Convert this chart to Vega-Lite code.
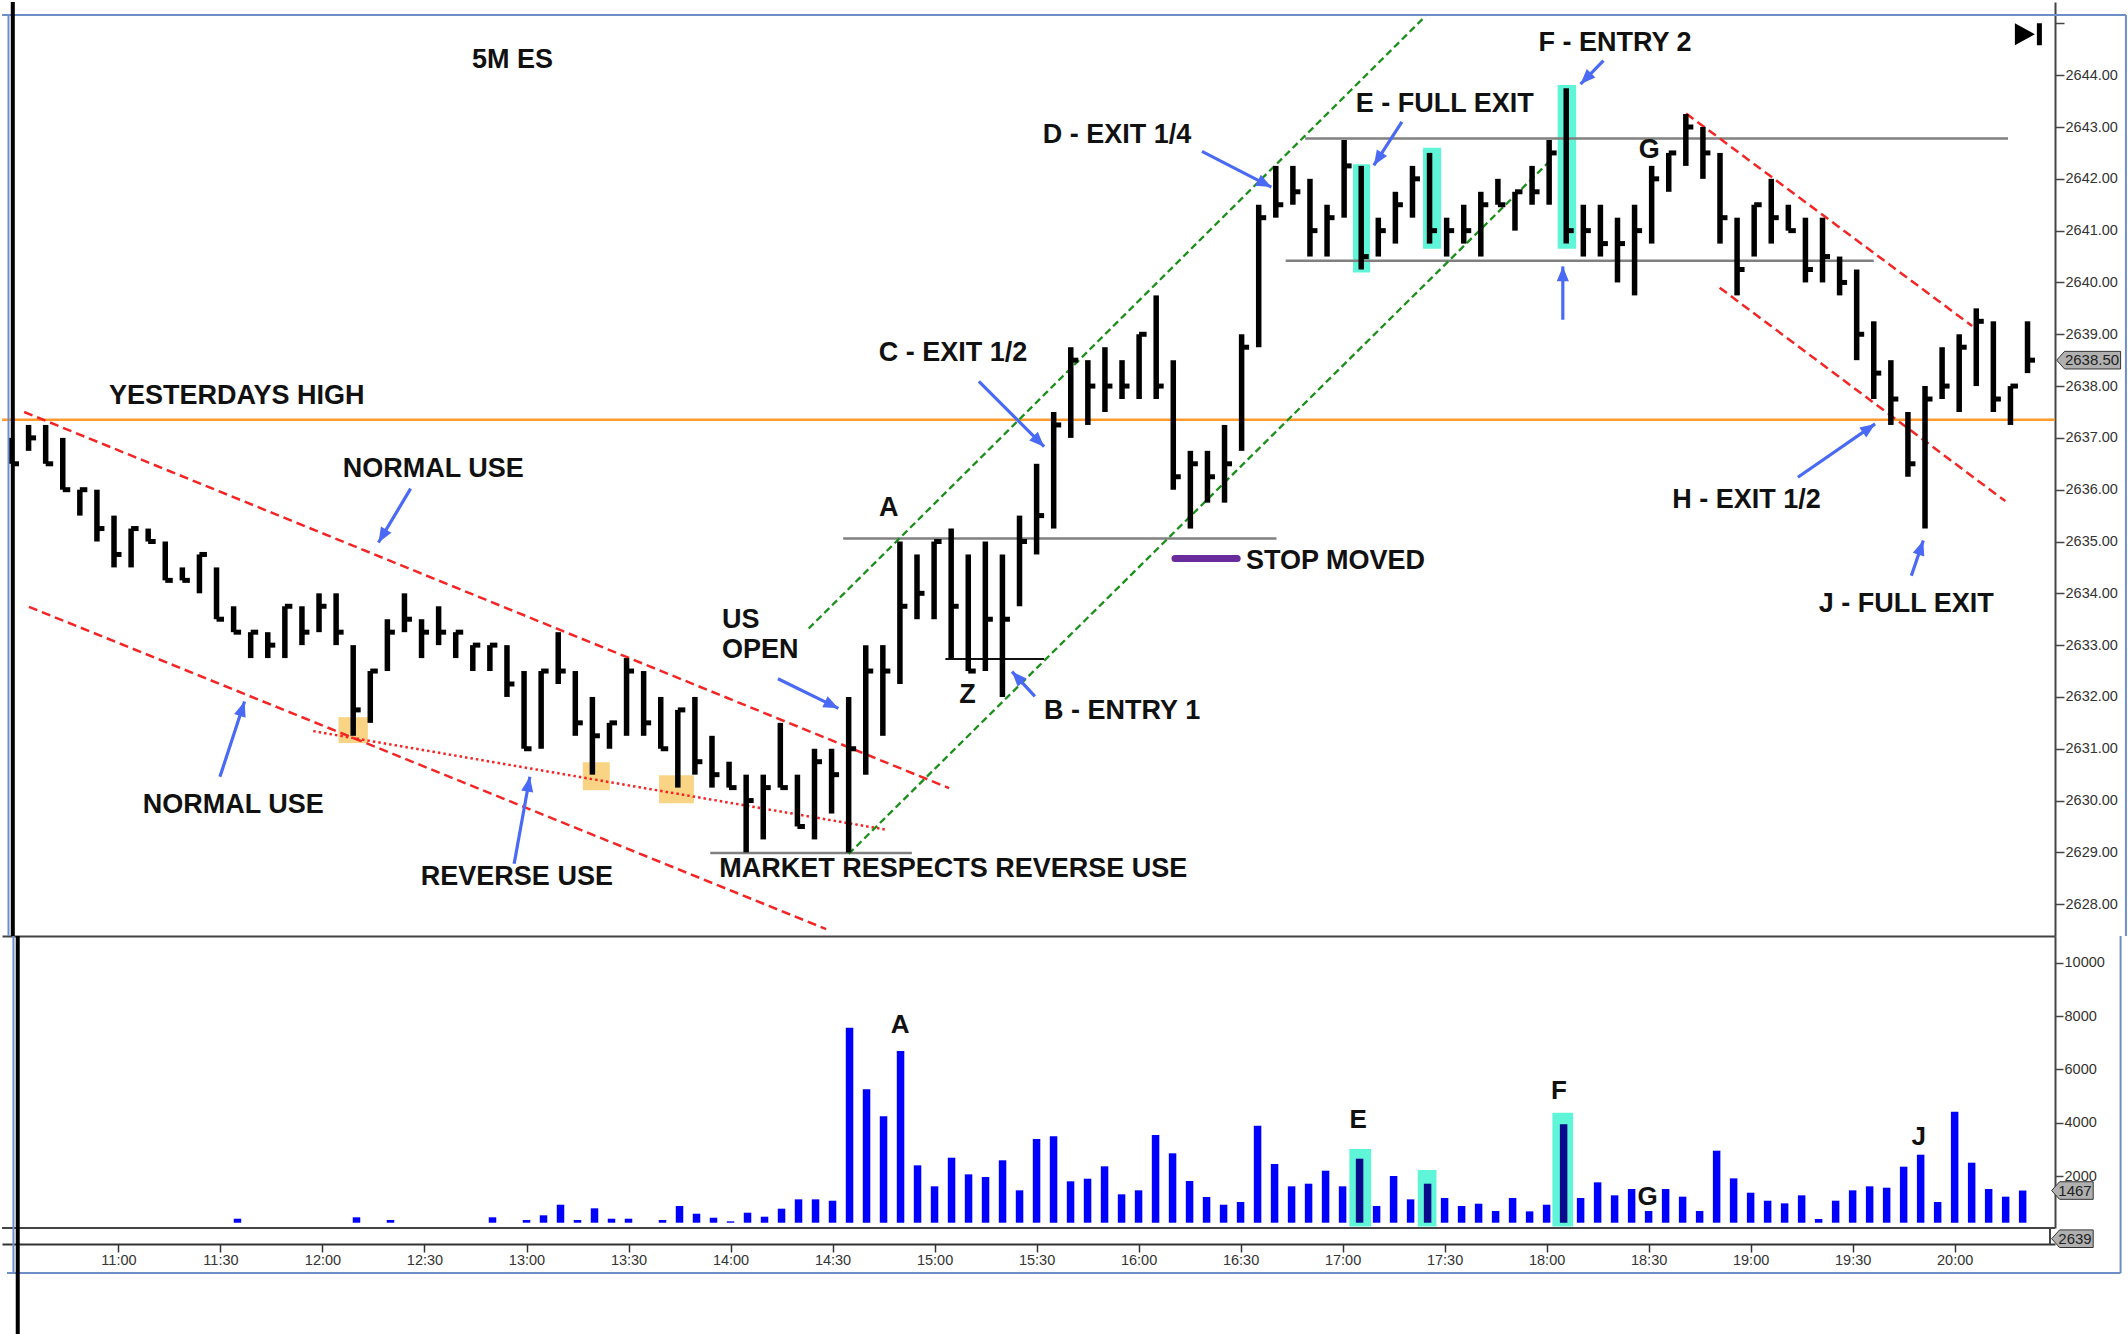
{
"$schema":"https://vega.github.io/schema/vega-lite/v6.json",
"background":"white",
"padding":0,
"spacing":0,
"bounds":"flush",
"config":{"view":{"stroke":null},"axis":{"grid":false,"labelFont":"Liberation Sans","labelFontSize":14.5,"labelColor":"#333333","domainColor":"#444444","domainWidth":2,"tickColor":"#444444","tickWidth":1.5},"text":{"font":"Liberation Sans","fontWeight":"bold","fontSize":27,"color":"#111111"}},
"datasets":{
"bars":[
{"t":630,"h":2637.00,"l":2636.50,"c":2636.50},
{"t":635,"h":2637.25,"l":2636.75,"c":2637.00},
{"t":640,"h":2637.25,"l":2636.50,"c":2636.50},
{"t":645,"h":2637.00,"l":2636.00,"c":2636.00},
{"t":650,"h":2636.00,"l":2635.50,"c":2636.00},
{"t":655,"h":2636.00,"l":2635.00,"c":2635.25},
{"t":660,"h":2635.50,"l":2634.50,"c":2634.75},
{"t":665,"h":2635.25,"l":2634.50,"c":2635.25},
{"t":670,"h":2635.25,"l":2635.00,"c":2635.00},
{"t":675,"h":2635.00,"l":2634.25,"c":2634.25},
{"t":680,"h":2634.50,"l":2634.25,"c":2634.25},
{"t":685,"h":2634.75,"l":2634.00,"c":2634.75},
{"t":690,"h":2634.50,"l":2633.50,"c":2633.50},
{"t":695,"h":2633.75,"l":2633.25,"c":2633.25,"v":412},
{"t":700,"h":2633.25,"l":2632.75,"c":2633.25},
{"t":705,"h":2633.25,"l":2632.75,"c":2633.00},
{"t":710,"h":2633.75,"l":2632.75,"c":2633.75},
{"t":715,"h":2633.75,"l":2633.00,"c":2633.25},
{"t":720,"h":2634.00,"l":2633.25,"c":2633.75},
{"t":725,"h":2634.00,"l":2633.00,"c":2633.25},
{"t":730,"h":2633.00,"l":2631.25,"c":2631.75,"v":464},
{"t":735,"h":2632.50,"l":2631.50,"c":2632.50},
{"t":740,"h":2633.50,"l":2632.50,"c":2633.25,"v":363},
{"t":745,"h":2634.00,"l":2633.25,"c":2633.50},
{"t":750,"h":2633.50,"l":2632.75,"c":2633.25},
{"t":755,"h":2633.75,"l":2633.00,"c":2633.25},
{"t":760,"h":2633.25,"l":2632.75,"c":2633.25},
{"t":765,"h":2633.00,"l":2632.50,"c":2633.00},
{"t":770,"h":2633.00,"l":2632.50,"c":2633.00,"v":464},
{"t":775,"h":2633.00,"l":2632.00,"c":2632.25},
{"t":780,"h":2632.50,"l":2631.00,"c":2631.00,"v":363},
{"t":785,"h":2632.50,"l":2631.00,"c":2632.50,"v":539},
{"t":790,"h":2633.25,"l":2632.25,"c":2632.50,"v":936},
{"t":795,"h":2632.50,"l":2631.25,"c":2631.50,"v":363},
{"t":800,"h":2632.00,"l":2630.50,"c":2631.25,"v":801},
{"t":805,"h":2631.50,"l":2631.00,"c":2631.50,"v":412},
{"t":810,"h":2632.75,"l":2631.25,"c":2632.50,"v":412},
{"t":815,"h":2632.50,"l":2631.25,"c":2631.50},
{"t":820,"h":2632.00,"l":2631.00,"c":2631.00,"v":363},
{"t":825,"h":2631.75,"l":2630.25,"c":2631.75,"v":887},
{"t":830,"h":2632.00,"l":2630.50,"c":2630.75,"v":599},
{"t":835,"h":2631.25,"l":2630.25,"c":2630.50,"v":449},
{"t":840,"h":2630.75,"l":2630.25,"c":2630.25,"v":314},
{"t":845,"h":2630.50,"l":2629.00,"c":2630.00,"v":637},
{"t":850,"h":2630.50,"l":2629.25,"c":2630.25,"v":487},
{"t":855,"h":2631.50,"l":2630.25,"c":2630.25,"v":787},
{"t":860,"h":2630.50,"l":2629.50,"c":2629.50,"v":1137},
{"t":865,"h":2631.00,"l":2629.25,"c":2630.75,"v":1137},
{"t":870,"h":2631.00,"l":2629.75,"c":2630.50,"v":1086},
{"t":875,"h":2632.00,"l":2629.00,"c":2631.00,"v":7565},
{"t":880,"h":2633.00,"l":2630.50,"c":2632.50,"v":5258},
{"t":885,"h":2633.00,"l":2631.25,"c":2632.50,"v":4247},
{"t":890,"h":2635.00,"l":2632.25,"c":2633.75,"v":6692},
{"t":895,"h":2634.75,"l":2633.50,"c":2634.00,"v":2411},
{"t":900,"h":2635.00,"l":2633.50,"c":2635.00,"v":1625},
{"t":905,"h":2635.25,"l":2632.75,"c":2633.75,"v":2697},
{"t":910,"h":2634.75,"l":2632.50,"c":2632.50,"v":2073},
{"t":915,"h":2635.00,"l":2632.50,"c":2633.50,"v":1974},
{"t":920,"h":2634.75,"l":2632.00,"c":2633.50,"v":2599},
{"t":925,"h":2635.50,"l":2633.75,"c":2635.00,"v":1475},
{"t":930,"h":2636.50,"l":2634.75,"c":2635.50,"v":3397},
{"t":935,"h":2637.50,"l":2635.25,"c":2637.25,"v":3497},
{"t":940,"h":2638.75,"l":2637.00,"c":2638.50,"v":1812},
{"t":945,"h":2638.50,"l":2637.25,"c":2638.00,"v":1910},
{"t":950,"h":2638.75,"l":2637.50,"c":2638.00,"v":2374},
{"t":955,"h":2638.50,"l":2637.75,"c":2638.00,"v":1325},
{"t":960,"h":2639.00,"l":2637.75,"c":2639.00,"v":1475},
{"t":965,"h":2639.75,"l":2637.75,"c":2638.00,"v":3547},
{"t":970,"h":2638.50,"l":2636.00,"c":2636.25,"v":2861},
{"t":975,"h":2636.75,"l":2635.25,"c":2636.50,"v":1824},
{"t":980,"h":2636.75,"l":2635.75,"c":2636.25,"v":1225},
{"t":985,"h":2637.25,"l":2635.75,"c":2636.50,"v":936},
{"t":990,"h":2639.00,"l":2636.75,"c":2638.75,"v":1037},
{"t":995,"h":2641.50,"l":2638.75,"c":2641.25,"v":3895},
{"t":1000,"h":2642.25,"l":2641.25,"c":2641.50,"v":2460},
{"t":1005,"h":2642.25,"l":2641.50,"c":2641.75,"v":1625},
{"t":1010,"h":2642.00,"l":2640.50,"c":2641.00,"v":1723},
{"t":1015,"h":2641.50,"l":2640.50,"c":2641.25,"v":2210},
{"t":1020,"h":2642.75,"l":2641.25,"c":2642.25,"v":1625},
{"t":1025,"h":2642.25,"l":2640.25,"c":2640.50,"v":2659},
{"t":1030,"h":2641.25,"l":2640.50,"c":2641.00,"v":888},
{"t":1035,"h":2641.75,"l":2640.75,"c":2641.50,"v":2011},
{"t":1040,"h":2642.25,"l":2641.25,"c":2642.00,"v":1137},
{"t":1045,"h":2642.50,"l":2640.75,"c":2641.00,"v":1723},
{"t":1050,"h":2641.25,"l":2640.50,"c":2641.00,"v":1187},
{"t":1055,"h":2641.50,"l":2640.75,"c":2641.00,"v":888},
{"t":1060,"h":2641.75,"l":2640.50,"c":2641.50,"v":974},
{"t":1065,"h":2642.00,"l":2641.50,"c":2641.50,"v":700},
{"t":1070,"h":2641.75,"l":2641.00,"c":2641.75,"v":1187},
{"t":1075,"h":2642.25,"l":2641.50,"c":2641.75,"v":687},
{"t":1080,"h":2642.75,"l":2641.50,"c":2642.50,"v":936},
{"t":1085,"h":2643.75,"l":2640.75,"c":2641.00,"v":3946},
{"t":1090,"h":2641.50,"l":2640.50,"c":2641.00,"v":1187},
{"t":1095,"h":2641.50,"l":2640.50,"c":2640.75,"v":1774},
{"t":1100,"h":2641.25,"l":2640.00,"c":2640.75,"v":1287},
{"t":1105,"h":2641.50,"l":2639.75,"c":2641.00,"v":1524},
{"t":1110,"h":2642.25,"l":2640.75,"c":2642.00,"v":700},
{"t":1115,"h":2642.50,"l":2641.75,"c":2642.50,"v":1524},
{"t":1120,"h":2643.25,"l":2642.25,"c":2643.00,"v":1237},
{"t":1125,"h":2643.00,"l":2642.00,"c":2642.50,"v":700},
{"t":1130,"h":2642.50,"l":2640.75,"c":2641.25,"v":2960},
{"t":1135,"h":2641.25,"l":2639.75,"c":2640.25,"v":1923},
{"t":1140,"h":2641.50,"l":2640.50,"c":2641.50,"v":1386},
{"t":1145,"h":2642.00,"l":2640.75,"c":2641.25,"v":1086},
{"t":1150,"h":2641.50,"l":2641.00,"c":2641.00,"v":987},
{"t":1155,"h":2641.25,"l":2640.00,"c":2640.25,"v":1287},
{"t":1160,"h":2641.25,"l":2640.00,"c":2640.50,"v":400},
{"t":1165,"h":2640.50,"l":2639.75,"c":2640.00,"v":1086},
{"t":1170,"h":2640.25,"l":2638.50,"c":2639.00,"v":1475},
{"t":1175,"h":2639.25,"l":2637.75,"c":2638.25,"v":1625},
{"t":1180,"h":2638.50,"l":2637.25,"c":2637.75,"v":1573},
{"t":1185,"h":2637.50,"l":2636.25,"c":2636.50,"v":2360},
{"t":1190,"h":2638.00,"l":2635.25,"c":2637.75,"v":2809},
{"t":1195,"h":2638.75,"l":2637.75,"c":2638.00,"v":1037},
{"t":1200,"h":2639.00,"l":2637.50,"c":2638.75,"v":4420},
{"t":1205,"h":2639.50,"l":2638.00,"c":2639.25,"v":2510},
{"t":1210,"h":2639.25,"l":2637.50,"c":2637.75,"v":1524},
{"t":1215,"h":2638.00,"l":2637.25,"c":2638.00,"v":1237},
{"t":1220,"h":2639.25,"l":2638.25,"c":2638.50,"v":1467}
],
"cyanPrice":[{"t":1022.6,"t2":1027.6,"p":2640.19,"p2":2642.28},{"t":1043.1,"t2":1048.4,"p":2640.65,"p2":2642.60},{"t":1082.5,"t2":1087.9,"p":2640.65,"p2":2643.81}],
"orangeBoxes":[{"t":725.7,"t2":734.3,"p":2631.11,"p2":2631.61},{"t":797.2,"t2":805.1,"p":2630.20,"p2":2630.74},{"t":819.5,"t2":829.7,"p":2629.95,"p2":2630.49}],
"cyanVol":[{"t":1022.0,"t2":1028.4,"v":120,"v2":3022},{"t":1042.1,"t2":1047.6,"v":120,"v2":2236},{"t":1081.7,"t2":1087.8,"v":120,"v2":4382}],
"level":[{"p":2637.35}],
"gray":[{"t":834.5,"p":2628.99,"t2":893.5,"p2":2628.99},{"t":873.4,"p":2635.06,"t2":1000.2,"p2":2635.06},{"t":1008.6,"p":2642.78,"t2":1214.3,"p2":2642.78},{"t":1002.9,"p":2640.42,"t2":1175.0,"p2":2640.42}],
"redDash":[{"t":633.7,"p":2637.50,"t2":904.4,"p2":2630.24},{"t":635.1,"p":2633.74,"t2":868.4,"p2":2627.52},{"t":1120.1,"p":2643.26,"t2":1203.8,"p2":2639.16},{"t":1129.9,"p":2639.90,"t2":1213.5,"p2":2635.78}],
"redDot":[{"t":718.3,"p":2631.34,"t2":885.8,"p2":2629.44}],
"greenDash":[{"t":863.3,"p":2633.32,"t2":1043.8,"p2":2645.14},{"t":875.0,"p":2628.97,"t2":1080.3,"p2":2642.35}],
"zline":[{"t":903.3,"p":2632.73,"t2":932.2,"p2":2632.73}],
"stop":[{"t":970.5,"p":2634.67,"t2":988.7,"p2":2634.67}],
"arrows":[
{"t":746.8,"p":2636.02,"t2":737.4,"p2":2634.98},
{"t":691.0,"p":2630.46,"t2":698.2,"p2":2631.91},
{"t":777.1,"p":2628.78,"t2":781.7,"p2":2630.46},
{"t":854.3,"p":2632.35,"t2":872.0,"p2":2631.78},
{"t":929.5,"p":2632.01,"t2":922.8,"p2":2632.49},
{"t":913.1,"p":2638.09,"t2":932.2,"p2":2636.83},
{"t":978.4,"p":2642.53,"t2":998.7,"p2":2641.84},
{"t":1036.9,"p":2643.10,"t2":1028.7,"p2":2642.26},
{"t":1095.9,"p":2644.28,"t2":1089.2,"p2":2643.83},
{"t":1084.0,"p":2639.28,"t2":1084.0,"p2":2640.31},
{"t":1152.8,"p":2636.24,"t2":1175.4,"p2":2637.27},
{"t":1186.0,"p":2634.34,"t2":1189.5,"p2":2635.02}
],
"labelsLeft":[
{"t":658.5,"p":2637.81,"text":"YESTERDAYS HIGH"},
{"t":837.9,"p":2633.49,"text":"US"},
{"t":837.9,"p":2632.90,"text":"OPEN"},
{"t":837.1,"p":2628.67,"text":"MARKET RESPECTS REVERSE USE"},
{"t":932.2,"p":2631.73,"text":"B - ENTRY 1"},
{"t":883.8,"p":2638.64,"text":"C - EXIT 1/2"},
{"t":991.3,"p":2634.63,"text":"STOP MOVED"},
{"t":931.8,"p":2642.84,"text":"D - EXIT 1/4"},
{"t":1023.4,"p":2643.45,"text":"E - FULL EXIT"},
{"t":1076.9,"p":2644.62,"text":"F - ENTRY 2"},
{"t":1116.0,"p":2635.80,"text":"H - EXIT 1/2"},
{"t":1158.9,"p":2633.79,"text":"J - FULL EXIT"}
],
"labelsCenter":[
{"t":776.6,"p":2644.29,"text":"5M ES"},
{"t":753.4,"p":2636.40,"text":"NORMAL USE"},
{"t":694.9,"p":2629.92,"text":"NORMAL USE"},
{"t":777.9,"p":2628.52,"text":"REVERSE USE"},
{"t":886.7,"p":2635.65,"text":"A"},
{"t":909.8,"p":2632.03,"text":"Z"},
{"t":1109.3,"p":2642.55,"text":"G"}
],
"volLabels":[{"t":889.9,"v":7655,"text":"A"},{"t":1024.6,"v":4097,"text":"E"},{"t":1083.6,"v":5183,"text":"F"},{"t":1109.7,"v":1225,"text":"G"},{"t":1189.4,"v":3472,"text":"J"}],
"ptag":[{"p":2638.5,"label":"2638.50"}],
"vtag":[{"v":1467,"label":"1467"},{"v":-337,"label":"2639"}],
"icon":[{"t":1220.4,"p":2644.79}],
"one":[{"k":1}]
},
"vconcat":[
{"width":2053,"height":934,
"layer":[
{"data":{"name":"cyanPrice"},"mark":{"type":"rect","fill":"#5ff5d8"},"encoding":{"x":{"field":"t","type":"quantitative","scale":{"domain":[627.22,1228.04],"nice":false,"zero":false}},"x2":{"field":"t2"},"y":{"field":"p","type":"quantitative","scale":{"domain":[2627.386,2645.413],"nice":false,"zero":false}},"y2":{"field":"p2"}}},
{"data":{"name":"orangeBoxes"},"mark":{"type":"rect","fill":"#f9cf78","opacity":0.9},"encoding":{"x":{"field":"t","type":"quantitative","scale":{"domain":[627.22,1228.04],"nice":false,"zero":false}},"x2":{"field":"t2"},"y":{"field":"p","type":"quantitative","scale":{"domain":[2627.386,2645.413],"nice":false,"zero":false}},"y2":{"field":"p2"}}},
{"data":{"name":"level"},"mark":{"type":"rule","color":"#ff9a2e","strokeWidth":2.5},"encoding":{"y":{"field":"p","type":"quantitative","scale":{"domain":[2627.386,2645.413],"nice":false,"zero":false}}}},
{"data":{"name":"gray"},"mark":{"type":"rule","color":"#808080","strokeWidth":2.5},"encoding":{"x":{"field":"t","type":"quantitative","scale":{"domain":[627.22,1228.04],"nice":false,"zero":false}},"x2":{"field":"t2"},"y":{"field":"p","type":"quantitative","scale":{"domain":[2627.386,2645.413],"nice":false,"zero":false}},"y2":{"field":"p2"}}},
{"data":{"name":"redDash"},"mark":{"type":"rule","color":"#f52525","strokeWidth":2.5,"strokeDash":[9,5]},"encoding":{"x":{"field":"t","type":"quantitative","scale":{"domain":[627.22,1228.04],"nice":false,"zero":false}},"x2":{"field":"t2"},"y":{"field":"p","type":"quantitative","scale":{"domain":[2627.386,2645.413],"nice":false,"zero":false}},"y2":{"field":"p2"}}},
{"data":{"name":"redDot"},"mark":{"type":"rule","color":"#f52525","strokeWidth":2.5,"strokeDash":[2.5,3]},"encoding":{"x":{"field":"t","type":"quantitative","scale":{"domain":[627.22,1228.04],"nice":false,"zero":false}},"x2":{"field":"t2"},"y":{"field":"p","type":"quantitative","scale":{"domain":[2627.386,2645.413],"nice":false,"zero":false}},"y2":{"field":"p2"}}},
{"data":{"name":"greenDash"},"mark":{"type":"rule","color":"#1a8f1a","strokeWidth":2.3,"strokeDash":[7,4]},"encoding":{"x":{"field":"t","type":"quantitative","scale":{"domain":[627.22,1228.04],"nice":false,"zero":false}},"x2":{"field":"t2"},"y":{"field":"p","type":"quantitative","scale":{"domain":[2627.386,2645.413],"nice":false,"zero":false}},"y2":{"field":"p2"}}},
{"data":{"name":"zline"},"mark":{"type":"rule","color":"#111111","strokeWidth":2},"encoding":{"x":{"field":"t","type":"quantitative","scale":{"domain":[627.22,1228.04],"nice":false,"zero":false}},"x2":{"field":"t2"},"y":{"field":"p","type":"quantitative","scale":{"domain":[2627.386,2645.413],"nice":false,"zero":false}},"y2":{"field":"p2"}}},
{"data":{"name":"stop"},"mark":{"type":"rule","color":"#6a2c9c","strokeWidth":7,"strokeCap":"round"},"encoding":{"x":{"field":"t","type":"quantitative","scale":{"domain":[627.22,1228.04],"nice":false,"zero":false}},"x2":{"field":"t2"},"y":{"field":"p","type":"quantitative","scale":{"domain":[2627.386,2645.413],"nice":false,"zero":false}},"y2":{"field":"p2"}}},
{"data":{"name":"bars"},"mark":{"type":"rule","color":"#000000","strokeWidth":5.5},"encoding":{"x":{"field":"t","type":"quantitative","scale":{"domain":[627.22,1228.04],"nice":false,"zero":false},"axis":{"orient":"bottom","labels":false,"ticks":false,"domain":true,"title":null}},"y":{"field":"l","type":"quantitative","scale":{"domain":[2627.386,2645.413],"nice":false,"zero":false},"axis":{"orient":"right","values":[2628,2629,2630,2631,2632,2633,2634,2635,2636,2637,2638,2639,2640,2641,2642,2643,2644,2645],"labelExpr":"datum.value > 2644.5 ? '' : format(datum.value, '.2f')","tickSize":9,"labelPadding":1,"title":null}},"y2":{"field":"h"}}},
{"data":{"name":"bars"},"mark":{"type":"rule","color":"#000000","strokeWidth":5,"x2Offset":7.5},"encoding":{"x":{"field":"t","type":"quantitative","scale":{"domain":[627.22,1228.04],"nice":false,"zero":false}},"x2":{"field":"t"},"y":{"field":"c","type":"quantitative","scale":{"domain":[2627.386,2645.413],"nice":false,"zero":false}}}},
{"data":{"name":"arrows"},"mark":{"type":"rule","color":"#4a6af5","strokeWidth":3.2},"encoding":{"x":{"field":"t","type":"quantitative","scale":{"domain":[627.22,1228.04],"nice":false,"zero":false}},"x2":{"field":"t2"},"y":{"field":"p","type":"quantitative","scale":{"domain":[2627.386,2645.413],"nice":false,"zero":false}},"y2":{"field":"p2"}}},
{"data":{"name":"arrows"},"transform":[{"calculate":"atan2((datum.t2 - datum.t) * 3.417, (datum.p2 - datum.p) * 51.81) * 180 / PI","as":"ang"}],"mark":{"type":"point","shape":"M0,0 L0.65,1.6 L-0.65,1.6 Z","filled":true,"size":350,"color":"#4a6af5","opacity":1,"strokeWidth":0},"encoding":{"x":{"field":"t2","type":"quantitative","scale":{"domain":[627.22,1228.04],"nice":false,"zero":false}},"y":{"field":"p2","type":"quantitative","scale":{"domain":[2627.386,2645.413],"nice":false,"zero":false}},"angle":{"field":"ang","type":"quantitative","scale":null}}},
{"data":{"name":"labelsLeft"},"mark":{"type":"text","align":"left","baseline":"middle"},"encoding":{"x":{"field":"t","type":"quantitative","scale":{"domain":[627.22,1228.04],"nice":false,"zero":false}},"y":{"field":"p","type":"quantitative","scale":{"domain":[2627.386,2645.413],"nice":false,"zero":false}},"text":{"field":"text"}}},
{"data":{"name":"labelsCenter"},"mark":{"type":"text","align":"center","baseline":"middle"},"encoding":{"x":{"field":"t","type":"quantitative","scale":{"domain":[627.22,1228.04],"nice":false,"zero":false}},"y":{"field":"p","type":"quantitative","scale":{"domain":[2627.386,2645.413],"nice":false,"zero":false}},"text":{"field":"text"}}},
{"data":{"name":"icon"},"mark":{"type":"point","shape":"M-1.4,-1.1 L0.6,0 L-1.4,1.1 Z M0.8,-1.1 L1.3,-1.1 L1.3,1.1 L0.8,1.1 Z","filled":true,"size":400,"color":"#000000","opacity":1,"strokeWidth":0},"encoding":{"x":{"field":"t","type":"quantitative","scale":{"domain":[627.22,1228.04],"nice":false,"zero":false}},"y":{"field":"p","type":"quantitative","scale":{"domain":[2627.386,2645.413],"nice":false,"zero":false}}}},
{"data":{"name":"one"},"mark":{"type":"rule","color":"#6d8ec8","strokeWidth":2},"encoding":{"x":{"datum":627.22,"type":"quantitative","scale":{"domain":[627.22,1228.04],"nice":false,"zero":false}},"x2":{"datum":1248.8},"y":{"datum":2645.162,"type":"quantitative","scale":{"domain":[2627.386,2645.413],"nice":false,"zero":false}}}},
{"data":{"name":"one"},"mark":{"type":"rule","color":"#6d8ec8","strokeWidth":2},"encoding":{"x":{"datum":629.12,"type":"quantitative","scale":{"domain":[627.22,1228.04],"nice":false,"zero":false}},"y":{"datum":2645.162,"type":"quantitative","scale":{"domain":[2627.386,2645.413],"nice":false,"zero":false}},"y2":{"datum":2627.386}}},
{"data":{"name":"one"},"mark":{"type":"rule","color":"#6d8ec8","strokeWidth":2},"encoding":{"x":{"datum":1248.8,"type":"quantitative","scale":{"domain":[627.22,1228.04],"nice":false,"zero":false}},"y":{"datum":2645.162,"type":"quantitative","scale":{"domain":[2627.386,2645.413],"nice":false,"zero":false}},"y2":{"datum":2627.386}}},
{"data":{"name":"one"},"mark":{"type":"rule","color":"#000000","strokeWidth":4},"encoding":{"x":{"datum":630.38,"type":"quantitative","scale":{"domain":[627.22,1228.04],"nice":false,"zero":false}},"y":{"datum":2645.413,"type":"quantitative","scale":{"domain":[2627.386,2645.413],"nice":false,"zero":false}},"y2":{"datum":2627.386}}},
{"data":{"name":"ptag"},"mark":{"type":"point","shape":"M0.2,0 L1.2,-1.1 L8.2,-1.1 L8.2,1.1 L1.2,1.1 Z","size":256,"filled":true,"fill":"#b0b0b0","stroke":"#333333","strokeWidth":1,"opacity":1},"encoding":{"x":{"datum":1228.04,"type":"quantitative","scale":{"domain":[627.22,1228.04],"nice":false,"zero":false}},"y":{"field":"p","type":"quantitative","scale":{"domain":[2627.386,2645.413],"nice":false,"zero":false}}}},
{"data":{"name":"ptag"},"mark":{"type":"text","align":"center","baseline":"middle","dx":37,"fontSize":15,"fontWeight":"normal","color":"#222222"},"encoding":{"x":{"datum":1228.04,"type":"quantitative","scale":{"domain":[627.22,1228.04],"nice":false,"zero":false}},"y":{"field":"p","type":"quantitative","scale":{"domain":[2627.386,2645.413],"nice":false,"zero":false}},"text":{"field":"label"}}}
]},
{"width":2053,"height":292,
"layer":[
{"data":{"name":"cyanVol"},"mark":{"type":"rect","fill":"#5ff5d8"},"encoding":{"x":{"field":"t","type":"quantitative","scale":{"domain":[627.22,1228.04],"nice":false,"zero":false}},"x2":{"field":"t2"},"y":{"field":"v","type":"quantitative","scale":{"domain":[64,10999],"nice":false,"zero":false}},"y2":{"field":"v2"}}},
{"data":{"name":"bars"},"transform":[{"filter":"isValid(datum.v)"}],"mark":{"type":"bar","size":7.5},"encoding":{"x":{"field":"t","type":"quantitative","scale":{"domain":[627.22,1228.04],"nice":false,"zero":false},"axis":{"orient":"bottom","offset":16,"values":[660,690,720,750,780,810,840,870,900,930,960,990,1020,1050,1080,1110,1140,1170,1200],"labelExpr":"floor(datum.value / 60) + ':' + (datum.value % 60 == 0 ? '00' : '30')","tickSize":8,"labelPadding":1,"title":null,"domainColor":"#333333","tickColor":"#333333"}},"y":{"field":"v","type":"quantitative","scale":{"domain":[64,10999],"nice":false,"zero":false},"axis":{"orient":"right","values":[2000,4000,6000,8000,10000],"format":"d","tickSize":8,"labelPadding":1,"title":null}},"y2":{"datum":262},"color":{"condition":{"test":"datum.t == 1025 || datum.t == 1045 || datum.t == 1085","value":"#0a0a8c"},"value":"#0000ff"}}},
{"data":{"name":"volLabels"},"mark":{"type":"text","align":"center","baseline":"middle","fontSize":26},"encoding":{"x":{"field":"t","type":"quantitative","scale":{"domain":[627.22,1228.04],"nice":false,"zero":false}},"y":{"field":"v","type":"quantitative","scale":{"domain":[64,10999],"nice":false,"zero":false}},"text":{"field":"text"}}},
{"data":{"name":"one"},"mark":{"type":"rule","color":"#444444","strokeWidth":2},"encoding":{"y":{"datum":64,"type":"quantitative","scale":{"domain":[64,10999],"nice":false,"zero":false}}}},
{"data":{"name":"one"},"mark":{"type":"rule","color":"#444444","strokeWidth":2},"encoding":{"x":{"datum":1228.04,"type":"quantitative","scale":{"domain":[627.22,1228.04],"nice":false,"zero":false}},"y":{"datum":64,"type":"quantitative","scale":{"domain":[64,10999],"nice":false,"zero":false}},"y2":{"datum":-535}}},
{"data":{"name":"one"},"mark":{"type":"rule","color":"#6d8ec8","strokeWidth":2},"encoding":{"x":{"datum":629.12,"type":"quantitative","scale":{"domain":[627.22,1228.04],"nice":false,"zero":false}},"y":{"datum":10999,"type":"quantitative","scale":{"domain":[64,10999],"nice":false,"zero":false}},"y2":{"datum":-1622}}},
{"data":{"name":"one"},"mark":{"type":"rule","color":"#6d8ec8","strokeWidth":2},"encoding":{"x":{"datum":1248.8,"type":"quantitative","scale":{"domain":[627.22,1228.04],"nice":false,"zero":false}},"y":{"datum":10999,"type":"quantitative","scale":{"domain":[64,10999],"nice":false,"zero":false}},"y2":{"datum":-1622}}},
{"data":{"name":"one"},"mark":{"type":"rule","color":"#6d8ec8","strokeWidth":2},"encoding":{"x":{"datum":627.22,"type":"quantitative","scale":{"domain":[627.22,1228.04],"nice":false,"zero":false}},"x2":{"datum":1248.8},"y":{"datum":-1622,"type":"quantitative","scale":{"domain":[64,10999],"nice":false,"zero":false}}}},
{"data":{"name":"one"},"mark":{"type":"rule","color":"#000000","strokeWidth":4},"encoding":{"x":{"datum":630.38,"type":"quantitative","scale":{"domain":[627.22,1228.04],"nice":false,"zero":false}},"y":{"datum":10999,"type":"quantitative","scale":{"domain":[64,10999],"nice":false,"zero":false}},"y2":{"datum":-3981}}},
{"data":{"name":"vtag"},"mark":{"type":"point","shape":"M0.2,0 L1.2,-1.1 L5.4,-1.1 L5.4,1.1 L1.2,1.1 Z","size":256,"filled":true,"fill":"#b0b0b0","stroke":"#333333","strokeWidth":1,"opacity":1},"encoding":{"x":{"datum":1228.04,"type":"quantitative","scale":{"domain":[627.22,1228.04],"nice":false,"zero":false}},"y":{"field":"v","type":"quantitative","scale":{"domain":[64,10999],"nice":false,"zero":false}}}},
{"data":{"name":"vtag"},"mark":{"type":"text","align":"center","baseline":"middle","dx":25,"fontSize":15,"fontWeight":"normal","color":"#222222"},"encoding":{"x":{"datum":1228.04,"type":"quantitative","scale":{"domain":[627.22,1228.04],"nice":false,"zero":false}},"y":{"field":"v","type":"quantitative","scale":{"domain":[64,10999],"nice":false,"zero":false}},"text":{"field":"label"}}}
]}
]
}
